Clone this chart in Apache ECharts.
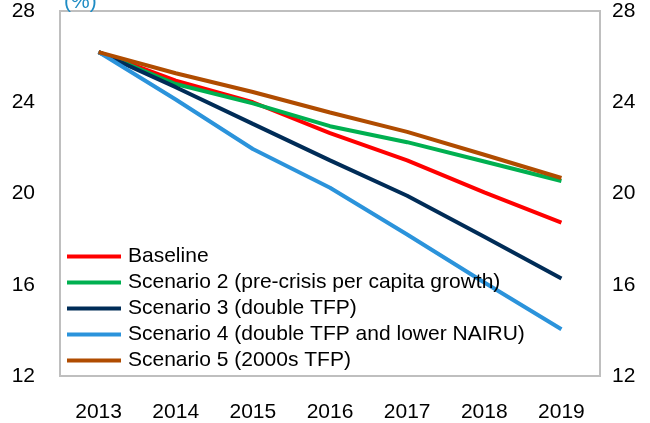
<!DOCTYPE html>
<html><head><meta charset="utf-8">
<script src="https://cdn.jsdelivr.net/npm/echarts@6/dist/echarts.min.js"></script>
<style>html,body{margin:0;padding:0;background:#fff}#c{width:650px;height:423px}</style>
</head><body><div id="c"></div>
<script>
const years = ['2013','2014','2015','2016','2017','2018','2019'];
const baseline  = [26.2, 24.95, 24.0, 22.65, 21.45, 20.05, 18.72];
const scenario2 = [26.2, 24.8, 23.95, 22.95, 22.25, 21.4, 20.55];
const scenario3 = [26.2, 24.66, 23.05, 21.45, 19.9, 18.1, 16.27];
const scenario4 = [26.2, 24.12, 21.95, 20.25, 18.2, 16.1, 14.05];
const scenario5 = [26.2, 25.27, 24.45, 23.55, 22.7, 21.7, 20.68];
const seriesNames = ['Baseline','Scenario 2 (pre-crisis per capita growth)','Scenario 3 (double TFP)','Scenario 4 (double TFP and lower NAIRU)','Scenario 5 (2000s TFP)'];
const colors = ['#ff0000','#00b050','#002c57','#2b93db','#b04c00'];
const yTicks = {min: 12, max: 28, interval: 4};

const font = 'Liberation Sans';
const fs = 21;
const chart = echarts.init(document.getElementById('c'));
const data = [baseline, scenario2, scenario3, scenario4, scenario5];
const yAxisBase = {
  type: 'value', min: yTicks.min, max: yTicks.max, interval: yTicks.interval,
  splitLine: {show: false}, axisLine: {show: false}, axisTick: {show: false},
  axisLabel: {color: '#000', fontSize: fs, fontFamily: font}
};
chart.setOption({
  animation: false,
  color: colors,
  grid: {left: 60, right: 50, top: 11, bottom: 46, show: true, borderColor: '#bfbfbf', borderWidth: 2, containLabel: false},
  graphic: [{type: 'text', left: 64, top: -8, style: {text: '(%)', fill: '#1f8cc4', fontSize: fs, fontFamily: font}}],
  legend: {
    orient: 'vertical', left: 62, top: 241, itemWidth: 54, itemHeight: 4, itemGap: 5,
    icon: 'rect', data: seriesNames,
    textStyle: {color: '#000', fontSize: fs, fontFamily: font, padding: [0,0,0,2]}
  },
  xAxis: {
    type: 'category', data: years, boundaryGap: true,
    axisLine: {show: false}, axisTick: {show: false},
    axisLabel: {color: '#000', fontSize: fs, fontFamily: font, margin: 26}
  },
  yAxis: [
    Object.assign({}, yAxisBase, {position: 'left', axisLabel: Object.assign({}, yAxisBase.axisLabel, {margin: 25})}),
    Object.assign({}, yAxisBase, {position: 'right', axisLabel: Object.assign({}, yAxisBase.axisLabel, {margin: 12})})
  ],
  series: seriesNames.map((n, i) => ({
    name: n, type: 'line', data: data[i], yAxisIndex: 0,
    showSymbol: false, symbol: 'none', lineStyle: {width: 4, color: colors[i]}, itemStyle: {color: colors[i]}
  }))
});
</script></body></html>
